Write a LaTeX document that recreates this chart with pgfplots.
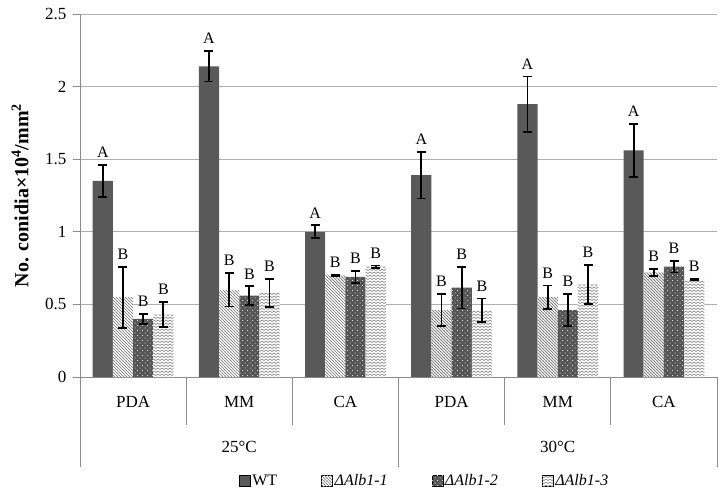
\documentclass[border=0pt]{standalone}
\usepackage{pgfplots}
\pgfplotsset{compat=1.18}
\usepackage{pgfplotstable}
\usepackage{fontspec}
\setmainfont{Liberation Serif}
\usetikzlibrary{patterns,calc}
\definecolor{wtc}{HTML}{595959}
\definecolor{a2c}{HTML}{555555}
\definecolor{hatchc}{HTML}{7A7A7A}
\definecolor{zigc}{HTML}{8C8C8C}
\definecolor{gridc}{HTML}{B0B0B0}
\definecolor{axc}{HTML}{8C8C8C}
\pgfdeclarepatternformonly{mydiag}{\pgfqpoint{-1pt}{-1pt}}{\pgfqpoint{4pt}{4pt}}{\pgfqpoint{3pt}{3pt}}{%
  \pgfsetlinewidth{0.7pt}%
  \pgfpathmoveto{\pgfqpoint{-0.5pt}{3.5pt}}\pgfpathlineto{\pgfqpoint{3.5pt}{-0.5pt}}\pgfusepath{stroke}}
\pgfdeclarepatternformonly{sdots}{\pgfqpoint{-1pt}{-1pt}}{\pgfqpoint{6pt}{6pt}}{\pgfqpoint{5pt}{5pt}}{%
  \pgfpathcircle{\pgfqpoint{0pt}{0pt}}{0.5pt}\pgfusepath{fill}%
  \pgfpathcircle{\pgfqpoint{2.5pt}{2.5pt}}{0.5pt}\pgfusepath{fill}}
\pgfdeclarepatternformonly{zigzag}{\pgfqpoint{-0.5pt}{-0.5pt}}{\pgfqpoint{4.5pt}{3pt}}{\pgfqpoint{4pt}{3pt}}{%
  \pgfsetlinewidth{0.65pt}%
  \pgfpathmoveto{\pgfqpoint{0pt}{0.5pt}}\pgfpathlineto{\pgfqpoint{2pt}{2pt}}\pgfpathlineto{\pgfqpoint{4pt}{0.5pt}}\pgfusepath{stroke}}
\pgfplotstableread{
x WT WTe A1 A1e A2 A2e A3 A3e
0 1.35 0.11 0.55 0.21 0.40 0.035 0.43 0.085
1 2.14 0.105 0.60 0.115 0.56 0.065 0.58 0.097
2 1.00 0.045 0.70 0.005 0.69 0.04 0.76 0.008
3 1.39 0.16 0.46 0.11 0.615 0.143 0.46 0.08
4 1.88 0.19 0.55 0.08 0.46 0.11 0.636 0.135
5 1.56 0.185 0.72 0.023 0.76 0.04 0.67 0.005
}\data
\begin{document}
\begin{tikzpicture}
\begin{axis}[
  name=ax,
  ybar, bar width=0.19,
  width=637pt, height=363pt, scale only axis,
  xmin=-0.5, xmax=5.5, ymin=0, ymax=2.5,
  clip=false,
  axis lines*=left,
  axis line style={axc, line width=0.8pt},
  ytick={0,0.5,...,2.5},
  ymajorgrids, grid style={gridc, line width=0.8pt},
  y tick style={axc, line width=0.8pt},
  tick align=outside, major tick length=7pt,
  yticklabel style={font=\fontsize{17}{19}\selectfont, xshift=-3pt},
  /pgf/number format/assume math mode=true,
  xtick={0,...,5},
  xticklabels={PDA,MM,CA,PDA,MM,CA},
  x tick style={draw=none},
  xticklabel style={font=\fontsize{17}{19}\selectfont, yshift=-9pt},
  ylabel={\textbf{No. conidia×10\textsuperscript{4}/mm\textsuperscript{2}}},
  ylabel style={font=\fontsize{20}{22}\selectfont, at={(axis description cs:-0.094,0.5)}, anchor=center},
  error bars/error bar style={black, line width=1.8pt},
  error bars/error mark options={rotate=90, black, mark size=4.5pt, line width=1.8pt},
  legend columns=4,
  legend style={draw=none, font=\fontsize{16}{18}\selectfont, at={(0.541,-0.287)}, anchor=center,
    /tikz/every even column/.append style={column sep=42pt}},
  legend image code/.code={\draw[#1] (0pt,-5.5pt) rectangle (11pt,5.5pt);},
  nodes near coords style={font=\fontsize{16}{18}\selectfont, anchor=south, inner sep=1pt, yshift=6pt, black},
]
\addplot[bar shift=-0.285, fill=wtc, draw=none,
  error bars/.cd, y dir=both, y explicit] table[x=x, y=WT, y error=WTe] {\data};
\addlegendentry{WT}
\addplot[bar shift=-0.095, draw=none, fill=white,
  postaction={pattern=mydiag, pattern color=hatchc},
  error bars/.cd, y dir=both, y explicit] table[x=x, y=A1, y error=A1e] {\data};
\addlegendentry{\textit{ΔAlb1-1}}
\addplot[bar shift=0.095, draw=none, fill=a2c,
  postaction={pattern=sdots, pattern color=white},
  error bars/.cd, y dir=both, y explicit] table[x=x, y=A2, y error=A2e] {\data};
\addlegendentry{\textit{ΔAlb1-2}}
\addplot[bar shift=0.285, draw=none, fill=white,
  postaction={pattern=zigzag, pattern color=zigc},
  error bars/.cd, y dir=both, y explicit] table[x=x, y=A3, y error=A3e] {\data};
\addlegendentry{\textit{ΔAlb1-3}}
% significance letters
\addplot[forget plot, bar shift=-0.285, draw=none, fill=none, nodes near coords={A}] table[x=x, y expr=\thisrow{WT}+\thisrow{WTe}] {\data};
\addplot[forget plot, bar shift=-0.095, draw=none, fill=none, nodes near coords={B}] table[x=x, y expr=\thisrow{A1}+\thisrow{A1e}] {\data};
\addplot[forget plot, bar shift=0.095, draw=none, fill=none, nodes near coords={B}] table[x=x, y expr=\thisrow{A2}+\thisrow{A2e}] {\data};
\addplot[forget plot, bar shift=0.285, draw=none, fill=none, nodes near coords={B}] table[x=x, y expr=\thisrow{A3}+\thisrow{A3e}] {\data};
% category separators
\pgfplotsinvokeforeach{0.5,1.5,3.5,4.5}{\draw[axc, line width=0.8pt] (axis cs:#1,0) -- ++(0pt,-48pt);}
\pgfplotsinvokeforeach{-0.5,2.5,5.5}{\draw[axc, line width=0.8pt] (axis cs:#1,0) -- ++(0pt,-90pt);}
\node[font=\fontsize{17}{19}\selectfont] at ([yshift=-70pt]axis cs:1,0) {25°C};
\node[font=\fontsize{17}{19}\selectfont] at ([yshift=-70pt]axis cs:4,0) {30°C};
\end{axis}
\pgfresetboundingbox
\path ($(ax.south west)+(-80pt,-116pt)$) rectangle ($(ax.north east)+(3pt,14pt)$);
\end{tikzpicture}
\end{document}
